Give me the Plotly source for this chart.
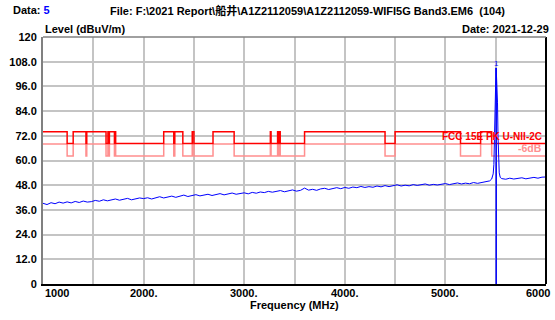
import numpy as np
import plotly.graph_objects as go

# --- data ---
# noise floor sweep, 1000-5440 MHz, 40 MHz steps
floor_freq = np.arange(1000, 5441, 40)
floor_level = [
    39.2, 38.6, 39.5, 39.0, 39.8, 39.3, 39.9, 39.4, 40.1, 39.6, 40.3, 39.8, 40.0,
    40.6, 40.2, 40.9, 40.4, 40.8, 41.3, 40.7, 41.2, 41.6, 40.9, 41.4, 41.8,
    41.5, 41.9, 41.3, 42.0, 42.4, 41.8, 42.3, 42.7, 42.1, 42.6, 43.2, 42.5, 42.9,
    43.4, 42.8, 43.1, 43.6, 43.0, 43.5, 43.9, 43.3, 43.8, 44.2, 43.6, 44.0,
    44.3, 43.8, 44.5, 44.1, 44.7, 44.4, 45.0, 44.6, 44.9, 45.4, 44.8, 45.2, 45.7,
    45.1, 45.5, 46.6, 45.6, 46.0, 45.5, 46.2, 46.5, 45.9, 46.4, 46.8, 46.3,
    46.9, 46.5, 47.1, 46.8, 47.4, 46.9, 47.3, 47.0, 47.6, 47.2, 47.8, 47.3, 47.7,
    48.2, 47.6, 48.0, 47.7, 48.3, 47.9, 48.1, 48.6, 48.0, 48.4, 48.1, 48.5,
    48.8, 48.3, 48.7, 49.1, 48.6, 49.0, 48.7, 49.3, 48.9, 49.2, 49.6, 50.1,
]
# carrier around 5.5 GHz
peak_freq = [5460, 5475, 5482, 5488, 5493, 5498, 5503, 5508, 5513, 5518, 5523, 5528, 5535, 5545]
peak_level = [51.0, 53.5, 58.0, 72.0, 96.0, 103.0, 105.0, 101.0, 95.0, 88.0, 72.0, 60.0, 54.0, 51.8]
# after the carrier
tail_freq = np.arange(5560, 6001, 40)
tail_level = [51.2, 50.9, 51.4, 51.0, 51.3, 51.6, 51.1, 51.5, 51.8, 51.4, 51.9, 52.0]

marker_freq = 5505
marker_level = 105.0

# FCC 15.205 restricted bands in view (74 dBuV/m), else 68.2 dBuV/m
restricted_bands = [
    (1000, 1240), (1300, 1427), (1435, 1626.5), (1645.5, 1646.5), (1660, 1710),
    (1718.8, 1722.2), (2200, 2300), (2310, 2390), (2483.5, 2500), (2690, 2900),
    (3260, 3267), (3332, 3339), (3345.8, 3358), (3600, 4400), (4500, 5150),
    (5350, 5460),
]
limit_restricted = 74.0
limit_other = 68.2
margin_db = 6.0

x_ticks = [1000, 2000, 3000, 4000, 5000, 6000]
x_tick_labels = ["1000", "2000.", "3000.", "4000.", "5000.", "6000"]
y_ticks = [0, 12, 24, 36, 48, 60, 72, 84, 96, 108, 120]
y_tick_labels = ["0", "12.0", "24.0", "36.0", "48.0", "60.0", "72.0", "84.0", "96.0", "108.0", "120"]

FONT = "Liberation Sans, Arial, Noto Sans CJK SC, sans-serif"
RED = "#ff0000"
PINK = "#ff8f8f"
BLUE = "#0000ff"

# step limit line
lim_x, lim_y = [], []
for lo, hi in restricted_bands:
    lim_x += [lo, hi]
    lim_y += [limit_restricted, limit_other]
lim_x.append(6000)
lim_y.append(limit_other)
lim6_y = [v - margin_db for v in lim_y]

trace_x = list(floor_freq) + peak_freq + list(tail_freq)
trace_y = floor_level + peak_level + tail_level

fig = go.Figure()
fig.add_trace(go.Scatter(x=lim_x, y=lim6_y, mode="lines", line_shape="hv",
                         line=dict(color=PINK, width=1.5), hoverinfo="skip"))
fig.add_trace(go.Scatter(x=lim_x, y=lim_y, mode="lines", line_shape="hv",
                         line=dict(color=RED, width=1.5), hoverinfo="skip"))
fig.add_trace(go.Scatter(x=[marker_freq, marker_freq], y=[0, marker_level], mode="lines",
                         line=dict(color=BLUE, width=1.5), hoverinfo="skip"))
fig.add_trace(go.Scatter(x=trace_x, y=trace_y, mode="lines",
                         line=dict(color=BLUE, width=1)))

# limit labels
fig.add_annotation(x=6000, y=71.6, xref="x", yref="y", text="<b>FCC 15E PK U-NII-2C</b>",
                   showarrow=False, xanchor="right", xshift=-2,
                   font=dict(family=FONT, size=10, color=RED))
fig.add_annotation(x=6000, y=66.0, xref="x", yref="y", text="<b>-6dB</b>",
                   showarrow=False, xanchor="right", xshift=-2,
                   font=dict(family=FONT, size=10.5, color=PINK))
fig.add_annotation(x=marker_freq, y=marker_level, xref="x", yref="y", text="1",
                   showarrow=False, yanchor="bottom", yshift=-2,
                   font=dict(family=FONT, size=8, color=BLUE))

# x tick labels (first left-aligned, last pushed to the edge)
for v, t in zip(x_ticks, x_tick_labels):
    anchor = "left" if v == x_ticks[0] else ("right" if v == x_ticks[-1] else "center")
    shift = 6 if v == x_ticks[-1] else 0
    fig.add_annotation(x=v, y=0, xref="x", yref="y", text=f"<b>{t}</b>", showarrow=False,
                       xanchor=anchor, yanchor="top", xshift=shift, yshift=-1,
                       font=dict(family=FONT, size=11, color="black"))

# header texts
bold = dict(family=FONT, size=11, color="black")
fig.add_annotation(xref="paper", yref="paper", x=-0.064, y=1.109, xanchor="left", yanchor="middle",
                   text="<b>Data: <span style='color:#0000ff'>5</span></b>",
                   showarrow=False, font=bold)
fig.add_annotation(xref="paper", yref="paper", x=0.525, y=1.109, xanchor="center", yanchor="middle",
                   text="<b>File: F:\\2021 Report\\船井\\A1Z2112059\\A1Z2112059-WIFI5G Band3.EM6  (104)</b>",
                   showarrow=False, font=bold)
fig.add_annotation(xref="paper", yref="paper", x=0.0, y=1.032, xanchor="left", yanchor="middle",
                   text="<b>Level (dBuV/m)</b>", showarrow=False, font=bold)
fig.add_annotation(xref="paper", yref="paper", x=1.01, y=1.034, xanchor="right", yanchor="middle",
                   text="<b>Date: 2021-12-29</b>", showarrow=False, font=bold)
fig.add_annotation(xref="paper", yref="paper", x=0.5, y=-0.085, xanchor="center", yanchor="middle",
                   text="<b>Frequency (MHz)</b>", showarrow=False, font=bold)

# frame edges: right black, top gray
fig.add_shape(type="line", xref="paper", yref="paper", x0=1, x1=1, y0=0, y1=1,
              line=dict(color="black", width=2))
fig.add_shape(type="line", xref="paper", yref="paper", x0=0, x1=1, y0=1, y1=1,
              line=dict(color="#808080", width=1.5))

fig.update_layout(
    width=555, height=320,
    margin=dict(l=41, r=9, t=37, b=36),
    paper_bgcolor="white", plot_bgcolor="white",
    showlegend=False,
    xaxis=dict(range=[1000, 6000], tickvals=np.arange(1000, 6001, 500), showticklabels=False,
               showgrid=True, gridcolor="#c4c4c4", gridwidth=1.5, zeroline=False,
               showline=True, linecolor="black", linewidth=2, ticks=""),
    yaxis=dict(range=[0, 120], tickvals=y_ticks, ticktext=[f"<b>{t}</b>" for t in y_tick_labels],
               showgrid=True, gridcolor="#c4c4c4", gridwidth=1.5, zeroline=False,
               showline=True, linecolor="#808080", linewidth=2, ticks="",
               ticklabelstandoff=2,
               tickfont=dict(family=FONT, size=11, color="black")),
)

# page body has a default 8px margin; drop it so the figure sits at the corner
fig.write_html("out.html", config={"displayModeBar": False},
               post_script="document.body.style.margin='0';")
